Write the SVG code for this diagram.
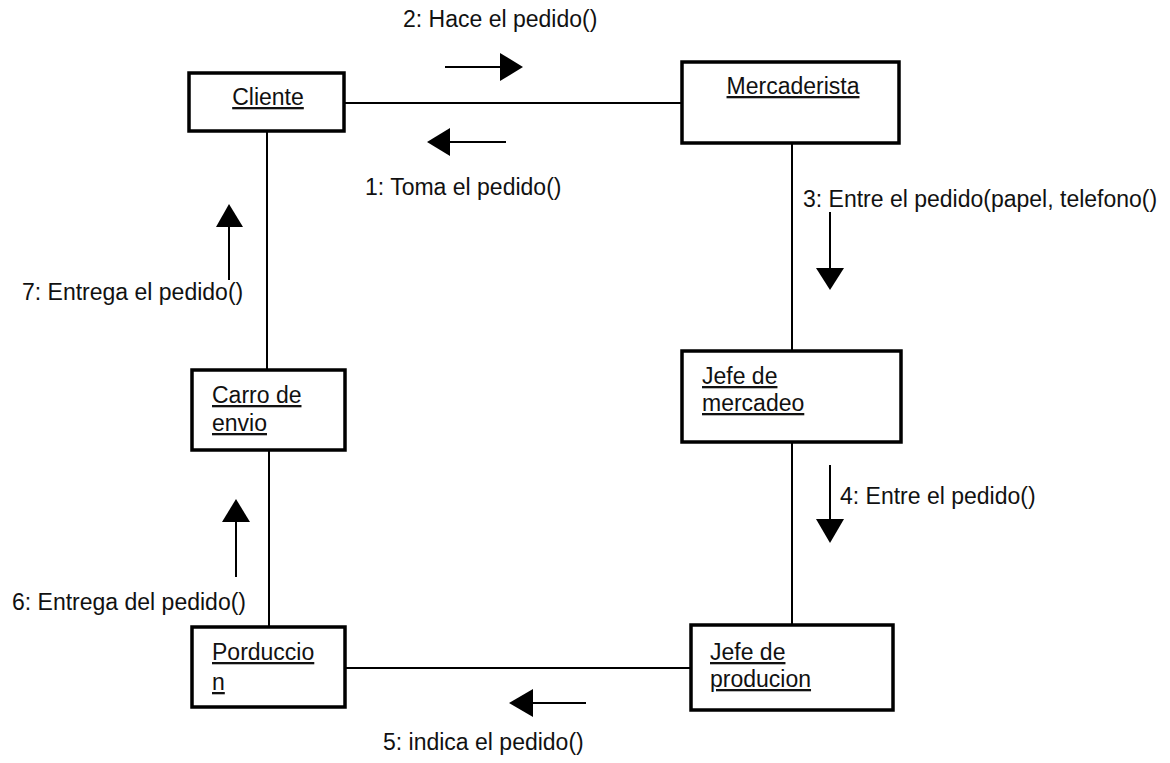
<svg xmlns="http://www.w3.org/2000/svg" width="1170" height="763" viewBox="0 0 1170 763">
<style>
.box{fill:#fff;stroke:#000;stroke-width:3.5}
.conn{stroke:#000;stroke-width:2;fill:none}
.msg{stroke:#000;stroke-width:2;fill:none}
.head{fill:#000;stroke:none}
text{font-family:"Liberation Sans",Arial,sans-serif;font-size:23px;fill:#111}
.nm{text-decoration:underline}
</style>
<rect width="1170" height="763" fill="#fff"/>
<g id="connectors">
<line class="conn" x1="344" y1="103" x2="682" y2="103"/>
<line class="conn" x1="792" y1="143" x2="792" y2="351"/>
<line class="conn" x1="792" y1="442" x2="792" y2="625"/>
<line class="conn" x1="345" y1="668" x2="691" y2="668"/>
<line class="conn" x1="269" y1="450" x2="269" y2="627"/>
<line class="conn" x1="267" y1="131" x2="267" y2="370"/>
</g>
<g id="messages">
<g id="m1">
<line class="msg" x1="506" y1="142" x2="448" y2="142"/>
<polygon class="head" points="427,142 450,128 450,156"/>
<text x="365" y="195">1: Toma el pedido()</text>
</g>
<g id="m2">
<line class="msg" x1="445" y1="67" x2="502" y2="67"/>
<polygon class="head" points="523,67 500,53 500,81"/>
<text x="403" y="27">2: Hace el pedido()</text>
</g>
<g id="m3">
<line class="msg" x1="830" y1="212" x2="830" y2="270"/>
<polygon class="head" points="830,290 816,268 844,268"/>
<text x="803" y="207">3: Entre el pedido(papel, telefono()</text>
</g>
<g id="m4">
<line class="msg" x1="830" y1="465" x2="830" y2="521"/>
<polygon class="head" points="830,543 816,519 844,519"/>
<text x="840" y="504">4: Entre el pedido()</text>
</g>
<g id="m5">
<line class="msg" x1="586" y1="703" x2="531" y2="703"/>
<polygon class="head" points="509,703 533,689 533,717"/>
<text x="383" y="750">5: indica el pedido()</text>
</g>
<g id="m6">
<line class="msg" x1="236" y1="577" x2="236" y2="520"/>
<polygon class="head" points="236,499 222,522 250,522"/>
<text x="12" y="610">6: Entrega del pedido()</text>
</g>
<g id="m7">
<line class="msg" x1="229" y1="280" x2="229" y2="225"/>
<polygon class="head" points="229,204 216,227 243,227"/>
<text x="22" y="300">7: Entrega el pedido()</text>
</g>
</g>
<g id="cliente">
<rect class="box" x="189" y="73" width="155" height="58"/>
<text class="nm" x="268" y="105" text-anchor="middle">Cliente</text>
</g>
<g id="mercaderista">
<rect class="box" x="682" y="62" width="217" height="81"/>
<text class="nm" x="793" y="94" text-anchor="middle">Mercaderista</text>
</g>
<g id="jefe-mercadeo">
<rect class="box" x="682" y="351" width="219" height="91"/>
<text class="nm" x="702" y="384">Jefe de</text>
<text class="nm" x="702" y="411">mercadeo</text>
</g>
<g id="carro-envio">
<rect class="box" x="192" y="370" width="153" height="80"/>
<text class="nm" x="212" y="403">Carro de</text>
<text class="nm" x="212" y="431">envio</text>
</g>
<g id="porduccion">
<rect class="box" x="192" y="627" width="153" height="80"/>
<text class="nm" x="212" y="660">Porduccio</text>
<text class="nm" x="212" y="690">n</text>
</g>
<g id="jefe-produccion">
<rect class="box" x="691" y="625" width="202" height="85"/>
<text class="nm" x="710" y="660">Jefe de</text>
<text class="nm" x="710" y="687">producion</text>
</g>
</svg>
